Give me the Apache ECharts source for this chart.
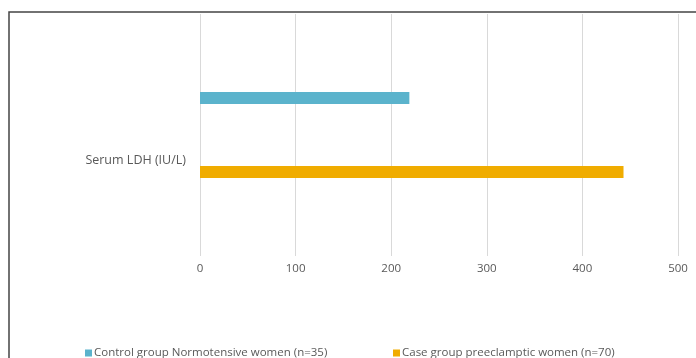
<!DOCTYPE html>
<html>
<head>
<meta charset="utf-8">
<script src="https://cdn.jsdelivr.net/npm/echarts@6/dist/echarts.min.js"></script>
<style>
html,body{margin:0;padding:0;background:#fff;}
#c{width:696px;height:358px;}
</style>
</head>
<body>
<div id="c"></div>
<script>
const categories = ['Serum LDH (IU/L)'];
const seriesNames = ['Control group Normotensive women (n=35)', 'Case group preeclamptic women (n=70)'];
const controlValues = [219];
const caseValues = [443];
const xTicks = [0, 100, 200, 300, 400, 500];

const chart = echarts.init(document.getElementById('c'), null, {renderer: 'canvas'});
const font = '"Open Sans", sans-serif';
const legendText = {color: '#595959', fontSize: 11.5, fontFamily: font, padding: [0, 0, 0, -3]};
chart.setOption({
  animation: false,
  backgroundColor: '#ffffff',
  textStyle: {fontFamily: font},
  graphic: [{
    type: 'polyline',
    shape: {points: [[9, 400], [9, 12], [800, 12]]},
    style: {fill: null, stroke: '#444', lineWidth: 1.5},
    silent: true, z: 0
  }],
  grid: {left: 200, right: 18, top: 14, bottom: 102, containLabel: false},
  xAxis: {
    type: 'value',
    min: xTicks[0], max: xTicks[xTicks.length - 1], interval: 100,
    axisLine: {show: false}, axisTick: {show: false},
    splitLine: {lineStyle: {color: '#d9d9d9', width: 1}},
    axisLabel: {color: '#595959', fontSize: 11.5, fontFamily: font, margin: 7}
  },
  yAxis: {
    type: 'category', data: categories, inverse: true,
    axisLine: {show: false}, axisTick: {show: false},
    axisLabel: {color: '#595959', fontSize: 12.5, fontFamily: font, margin: 14,
      verticalAlign: 'top', padding: [19, 0, 0, 0]}
  },
  legend: [{
    top: 347, left: 85, padding: 0,
    icon: 'rect', itemWidth: 7, itemHeight: 7,
    textStyle: legendText,
    data: [seriesNames[0]]
  }, {
    top: 347, left: 393, padding: 0,
    icon: 'rect', itemWidth: 7, itemHeight: 7,
    textStyle: legendText,
    data: [seriesNames[1]]
  }],
  series: [
    {name: seriesNames[0], type: 'bar', data: controlValues, barWidth: 12, barGap: '517%',
     itemStyle: {color: '#5bb3cc'}},
    {name: seriesNames[1], type: 'bar', data: caseValues, barWidth: 12, barGap: '517%',
     itemStyle: {color: '#f0ac00'}}
  ]
});
</script>
</body>
</html>
